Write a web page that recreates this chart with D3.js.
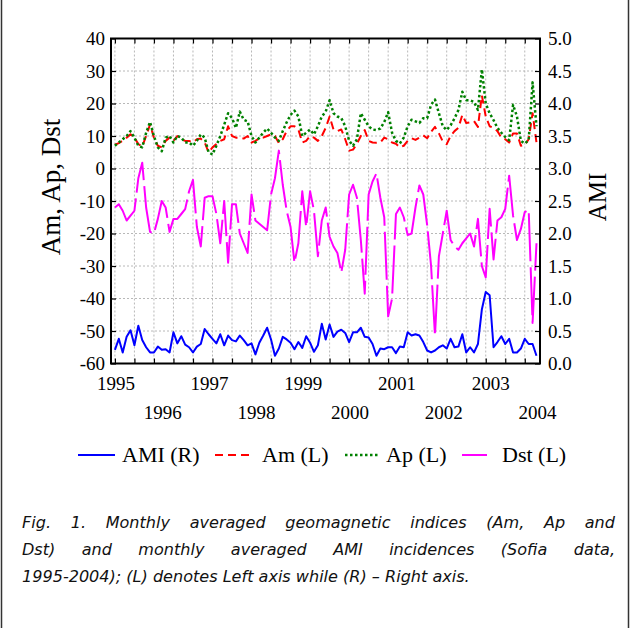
<!DOCTYPE html>
<html><head><meta charset="utf-8">
<script src="https://cdn.jsdelivr.net/npm/d3@7/dist/d3.min.js"></script>
<style>body{margin:0;background:#fff}svg{display:block}</style>
</head><body><svg id="c" width="630" height="628"></svg>
<script>
// ---- data (monthly, Jan 1995 ...) ----
const years = [1995,1996,1997,1998,1999,2000,2001,2002,2003,2004];
const gridMonths = [0,5,10,15,20,25,30,35,40,45,50,55,60,65,70,75,80,85,90,95,100,105];
const leftTicks = [-60,-50,-40,-30,-20,-10,0,10,20,30,40];
const rightTicks = [0,0.5,1,1.5,2,2.5,3,3.5,4,4.5,5];

const ami = [0.21,0.38,0.17,0.41,0.51,0.28,0.58,0.36,0.25,0.17,
0.17,0.26,0.21,0.22,0.17,0.48,0.31,0.42,0.29,0.25,
0.17,0.26,0.30,0.53,0.45,0.38,0.31,0.45,0.28,0.43,
0.36,0.34,0.43,0.36,0.28,0.31,0.14,0.32,0.43,0.55,
0.37,0.12,0.23,0.41,0.37,0.32,0.22,0.33,0.24,0.42,
0.32,0.18,0.28,0.61,0.37,0.60,0.41,0.49,0.52,0.47,
0.33,0.48,0.48,0.55,0.41,0.40,0.30,0.12,0.23,0.22,
0.25,0.25,0.16,0.26,0.25,0.48,0.43,0.45,0.43,0.33,
0.20,0.17,0.20,0.25,0.28,0.23,0.38,0.25,0.26,0.45,
0.17,0.25,0.17,0.30,0.83,1.10,1.05,0.25,0.33,0.42,
0.30,0.38,0.17,0.17,0.23,0.38,0.30,0.30,0.12];

const am = [7.3,7.8,8.6,9.5,10.5,9.5,7.5,6.8,10,13.5,
9.5,7,6.5,8.5,9.5,8.5,10,9,8.5,8.5,
8,9,9.2,8,5,6.5,7.5,8.5,9,13,
10,9.5,9.5,9.2,10,8,8.5,9.3,9.5,10,
10.5,10,7.8,9,11.5,13,13,12,8,8.5,
10,9.5,8.5,10,12.5,16,12,11.5,12,9,
5.5,5.8,7.6,10,11.8,8.5,8,7.9,8,9.5,
9,8,7.6,6.5,7,8.5,9.3,8.8,9.5,10.2,
9.3,11.3,12.8,10.8,8.3,7.5,10,11.5,12.5,16.5,
14,14.2,14.6,12.8,22.5,16,13,12.5,11.5,9.5,
9,8,10.8,10.8,7,7.2,9,17,8];

const ap = [7,8,9,10,11.5,9.5,7,6.5,11,14.3,
10,6.5,5.3,9.5,10,8,10,9.5,8,8,
7,8.5,10.5,9.5,5,4.3,7,10,13.5,17,
15.5,12.5,17.5,15,14.5,10,8,9.5,11,12.3,
11,9.5,8.5,11.5,14.2,16.5,17.8,16,10,11,
12,10.5,13,16,17.5,21,17,16,15.5,13,
8.6,7,9,17,15,13,12,11.8,12.3,14.3,
17.3,11,8.5,7.7,9.5,13,15,14.5,14,15.5,
15.5,19.6,21.2,17,13,11.8,13.3,15.4,18,23.6,
21,21,20.5,18,30.5,20,17,14.9,12.5,11,
9.7,8.7,19.6,16,8.5,7.7,8.7,26.5,13];

const dst = [-12,-11,-13,-16,-14.5,-13,-3,1.8,-12,-19.5,
-20,-15.5,-10,-12,-19.5,-15.5,-15.5,-14,-12.5,-7,
-3.5,-18,-24,-9,-8.5,-8.5,-14,-23,-10,-29,
-11,-11,-20,-23,-26,-8,-16,-17,-18,-19,
-8,-3,5.5,-5,-13,-18,-29,-23,-7,-18,
-7,-13,-27,-16,-12,-21,-24,-26,-32,-25,
-8,-5,-9,-22,-38.5,-8,-4,-1.5,-9,-15,
-45.5,-40,-14,-12,-15,-20.5,-20,-12,-5.2,-8,
-17.5,-30,-51.5,-27,-20,-13,-22,-24,-25,-23,
-21.5,-20,-24,-15.5,-30,-33.5,-12.4,-28,-16,-15,
-12.4,-2.2,-14.5,-22,-18.6,-13.4,-12.7,-47.5,-23];

const legendLabels = ["AMI (R)","Am (L)","Ap (L)","Dst (L)"];
const captionLines = [
 "Fig. 1. Monthly averaged geomagnetic indices (Am, Ap and",
 "Dst) and monthly averaged AMI incidences (Sofia data,",
 "1995-2004); (L) denotes Left axis while (R) \u2013 Right axis."
];

// ---- layout ----
const P = {l:111, r:540, t:38.5, b:363.5};
const svg = d3.select("#c");
const months = d3.range(ami.length);
const x = d3.scaleLinear().domain([-1.0, 108.9]).range([P.l, P.r]);
const yL = d3.scaleLinear().domain([-60, 40]).range([P.b, P.t]);
const yR = d3.scaleLinear().domain([0, 5]).range([P.b, P.t]);
const serif = "'Liberation Serif','Times New Roman',serif";

// outer frame lines
svg.append("line").attr("x1",1.5).attr("x2",1.5).attr("y1",0).attr("y2",628).attr("stroke","#333").attr("stroke-width",1.5);
svg.append("line").attr("x1",628.5).attr("x2",628.5).attr("y1",0).attr("y2",628).attr("stroke","#333").attr("stroke-width",1.5);

// grid
const g = svg.append("g");
g.selectAll(".vg").data(gridMonths).join("line")
  .attr("x1",d=>x(d)).attr("x2",d=>x(d)).attr("y1",P.t).attr("y2",P.b)
  .attr("stroke","#b8b8b8").attr("stroke-width",1).attr("stroke-dasharray","2,2");
g.selectAll(".hg").data(leftTicks.slice(1,-1)).join("line")
  .attr("x1",P.l).attr("x2",P.r).attr("y1",d=>yL(d)).attr("y2",d=>yL(d))
  .attr("stroke","#b8b8b8").attr("stroke-width",1).attr("stroke-dasharray","2,2");

// series
svg.append("clipPath").attr("id","pc").append("rect")
  .attr("x",P.l).attr("y",P.t).attr("width",P.r-P.l).attr("height",P.b-P.t);
const series = [
  {vals:am, y:yL, color:"#ff0000", w:2, dash:"8,5"},
  {vals:ap, y:yL, color:"#008000", w:2.5, dash:"2.5,2.5"},
  {vals:dst, y:yL, color:"#ff00ff", w:2, dash:"48,6"},
  {vals:ami, y:yR, color:"#0000ff", w:2, dash:null}
];
series.forEach(s=>{
  const line = d3.line().x((d,i)=>x(months[i])).y(d=>s.y(d));
  svg.append("path").datum(s.vals).attr("d",line).attr("fill","none")
    .attr("stroke",s.color).attr("stroke-width",s.w)
    .attr("stroke-dasharray",s.dash).attr("stroke-linejoin","round")
    .attr("clip-path","url(#pc)");
});

// axes
function style(sel){
  sel.select(".domain").remove();
  sel.selectAll(".tick line").attr("stroke","#000").attr("stroke-width",1.2);
  sel.selectAll(".tick text").attr("font-family",serif).attr("font-size",19).attr("fill","#000");
}
svg.append("g").attr("transform",`translate(${P.l},0)`)
  .call(d3.axisLeft(yL).tickValues(leftTicks).tickSize(-5).tickPadding(6).tickFormat(d=>String(d))).call(style);
svg.append("g").attr("transform",`translate(${P.r},0)`)
  .call(d3.axisRight(yR).tickValues(rightTicks).tickSize(-5).tickPadding(8).tickFormat(d=>d.toFixed(1))).call(style);
svg.append("g").attr("transform",`translate(0,${P.b})`)
  .call(d3.axisBottom(x).tickValues(gridMonths).tickSize(-5).tickFormat("")).call(style);
svg.append("g").attr("transform",`translate(0,${P.t})`)
  .call(d3.axisTop(x).tickValues(gridMonths).tickSize(-5).tickFormat("")).call(style);

// frame
svg.append("rect").attr("x",P.l).attr("y",P.t).attr("width",P.r-P.l).attr("height",P.b-P.t)
  .attr("fill","none").attr("stroke","#000").attr("stroke-width",2);

// year labels (alternating rows)
svg.selectAll(".yr").data(years).join("text")
  .attr("x",d=>x((d-1995)*12)+1).attr("y",(d,i)=> i%2===0 ? 390 : 419)
  .attr("text-anchor","middle").attr("font-family",serif).attr("font-size",19)
  .text(d=>d);

// axis titles
svg.append("text").attr("transform","translate(60,187) rotate(-90)")
  .attr("text-anchor","middle").attr("font-family",serif).attr("font-size",27).text("Am, Ap, Dst");
svg.append("text").attr("transform","translate(606,197) rotate(-90)")
  .attr("text-anchor","middle").attr("font-family",serif).attr("font-size",25).text("AMI");

// legend
const legY = 455;
const leg = [
  {x1:78, x2:115, tx:122, color:"#0000ff", w:2, dash:null},
  {x1:215, x2:252, tx:262, color:"#ff0000", w:2, dash:"8,5"},
  {x1:345, x2:378, tx:386, color:"#008000", w:2.5, dash:"2.5,2.5"},
  {x1:462, x2:487, tx:502, color:"#ff00ff", w:2, dash:null}
];
leg.forEach((l,i)=>{
  svg.append("line").attr("x1",l.x1).attr("x2",l.x2).attr("y1",legY).attr("y2",legY)
    .attr("stroke",l.color).attr("stroke-width",l.w).attr("stroke-dasharray",l.dash);
  svg.append("text").attr("x",l.tx).attr("y",legY+7).attr("font-family",serif)
    .attr("font-size",22).text(legendLabels[i]);
});

// caption: fit last line width, justify lines 1-2 with word spacing
const capTargets = [593, 593, 448];
const capEls = captionLines.map((t,i)=> svg.append("text").attr("x",22).attr("y",528+i*27)
    .attr("font-family","'DejaVu Sans',Verdana,sans-serif").attr("font-style","italic")
    .attr("font-size",16).attr("fill","#111").text(t));
const fs = 16*capTargets[2]/capEls[2].node().getComputedTextLength();
capEls.forEach((el,i)=>{
  el.attr("font-size",fs);
  if(i<2){
    const L = el.node().getComputedTextLength();
    const n = (captionLines[i].match(/ /g)||[]).length;
    el.attr("word-spacing",Math.max(0,(capTargets[i]-L)/n));
  }
});
</script></body></html>
